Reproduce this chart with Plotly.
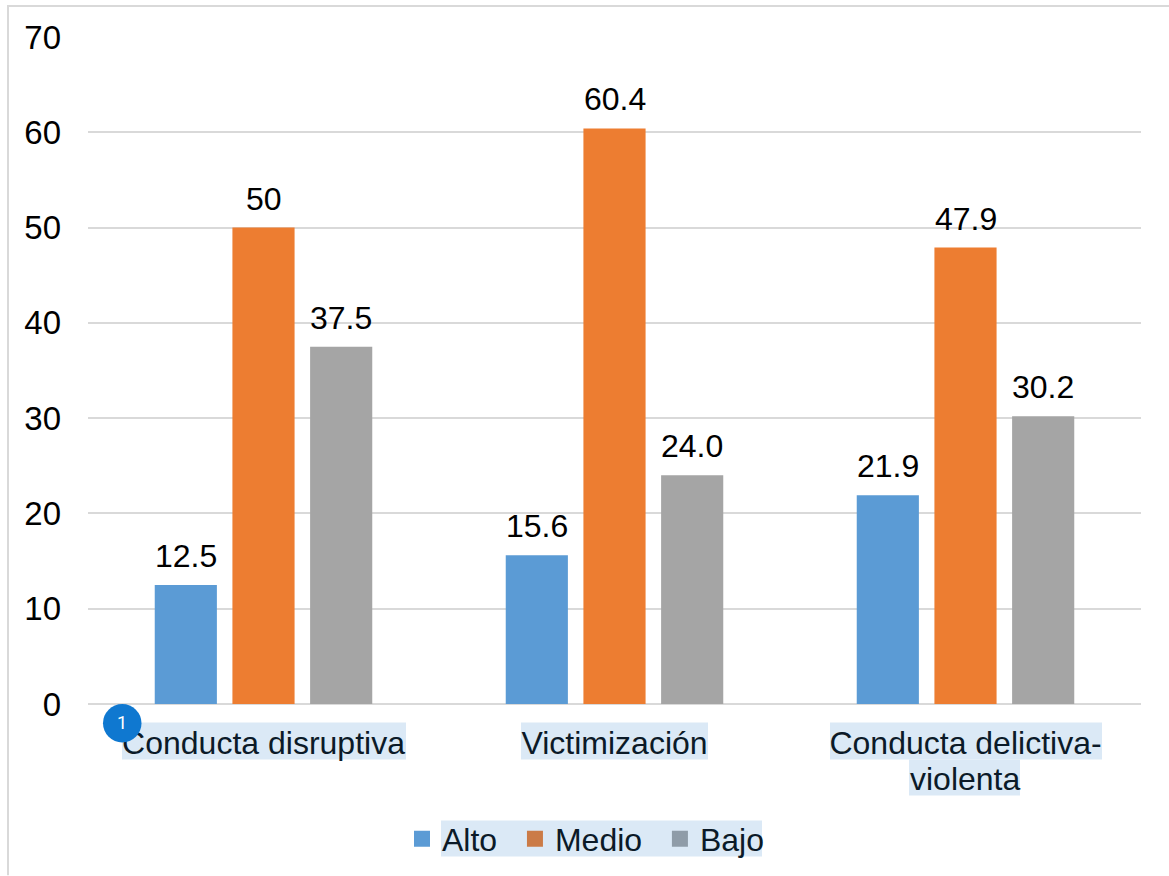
import plotly.graph_objects as go

categories = ["Conducta disruptiva", "Victimización", "Conducta delictiva-"]
third_category_second_line = "violenta"
series_names = ["Alto", "Medio", "Bajo"]
alto = [12.5, 15.6, 21.9]
medio = [50, 60.4, 47.9]
bajo = [37.5, 24.0, 30.2]
alto_labels = ["12.5", "15.6", "21.9"]
medio_labels = ["50", "60.4", "47.9"]
bajo_labels = ["37.5", "24.0", "30.2"]
y_ticks = [0, 10, 20, 30, 40, 50, 60, 70]

W, H = 1169, 876
L, R, T, B = 88, 28, 37, 171.5
FONT = "Liberation Sans"
HIGHLIGHT = "#dbe9f6"
GRID = "#d9d9d9"
INK = "#0b1a28"
BAR_STEP = 77.7


def px(x):
    return (x - L) / (W - L - R)


def py(y):
    return 1 - (y - T) / (H - T - B)


def band(x0, x1, y0, y1):
    return dict(type="rect", xref="paper", yref="paper", x0=px(x0), x1=px(x1),
                y0=py(y1), y1=py(y0), fillcolor=HIGHLIGHT, line_width=0, layer="below")


fig = go.Figure()
annotations = []
series = [
    (series_names[0], alto, alto_labels, "#5b9bd5", "#5b9bd5", -BAR_STEP),
    (series_names[1], medio, medio_labels, "#ed7d31", "#cb7b47", 0),
    (series_names[2], bajo, bajo_labels, "#a5a5a5", "#8f9ca8", BAR_STEP),
]
for name, values, labels, colour, swatch, shift in series:
    fig.add_bar(x=categories, y=values, name=name, showlegend=False,
                marker=dict(color=colour, line_width=0))
    # value labels sit a fixed distance above each bar
    for cat, val, lab in zip(categories, values, labels):
        annotations.append(dict(text=lab, x=cat, y=val, xref="x", yref="y", xshift=shift, yshift=29,
                                xanchor="center", yanchor="middle", showarrow=False,
                                font=dict(family=FONT, size=32, color="#000000")))
    # legend key in the tint it has over the highlighted strip
    fig.add_scatter(x=[categories[0]], y=[None], mode="markers", name=name + "\u2009\u2009",
                    marker=dict(symbol="square", size=17, color=swatch, line_width=0))

shapes = [
    band(122, 406, 723, 760),
    band(521, 708, 723, 760),
    band(830, 1102, 723, 760),
    band(909, 1020, 760, 796),
    band(441, 762, 821, 857),
    # outer frame of the chart
    dict(type="line", xref="paper", yref="paper", x0=px(8), x1=px(8), y0=py(5), y1=py(876),
         line=dict(color=GRID, width=2), layer="below"),
    dict(type="line", xref="paper", yref="paper", x0=px(8), x1=px(1169), y0=py(6), y1=py(6),
         line=dict(color=GRID, width=2), layer="below"),
    # numbered badge
    dict(type="circle", xref="paper", yref="paper", x0=px(103), x1=px(141.5), y0=py(743), y1=py(704.5),
         fillcolor="#0f78d0", line_width=0, layer="above"),
]

annotations.append(dict(text="1", xref="paper", yref="paper", x=px(122), y=py(723.5),
                        xanchor="center", yanchor="middle", showarrow=False,
                        font=dict(family="Roboto", size=18, color="#ffffff")))
annotations.append(dict(text=third_category_second_line, x=categories[2], xref="x", yref="paper", y=py(780),
                        xanchor="center", yanchor="middle", showarrow=False,
                        font=dict(family=FONT, size=32, color=INK)))

fig.update_layout(
    width=W, height=H, autosize=False,
    margin=dict(l=L, r=R, t=T, b=B, pad=0),
    paper_bgcolor="white", plot_bgcolor="white",
    barmode="group", bargap=0.336, bargroupgap=0.2,
    font=dict(family=FONT, size=32, color="#000000"),
    shapes=shapes,
    annotations=annotations,
    showlegend=True,
    legend=dict(orientation="h", x=(422 - 20) / W, xanchor="left", xref="container",
                y=(876 - 839) / H, yanchor="middle", yref="container",
                bgcolor="rgba(0,0,0,0)", font=dict(family=FONT, size=32, color=INK),
                itemsizing="trace", tracegroupgap=0),
    xaxis=dict(showgrid=False, showline=False, ticks="", ticklabelstandoff=17,
               tickfont=dict(family=FONT, size=32, color=INK),
               automargin=False, fixedrange=True),
    yaxis=dict(range=[0, 70], tickvals=y_ticks, showgrid=True, gridcolor=GRID, gridwidth=2,
               zeroline=True, zerolinecolor=GRID, zerolinewidth=2, showline=False, ticks="",
               ticklabelstandoff=26, tickfont=dict(family=FONT, size=33, color="#000000"),
               automargin=False, fixedrange=True),
)

fig.write_html("out.html")
